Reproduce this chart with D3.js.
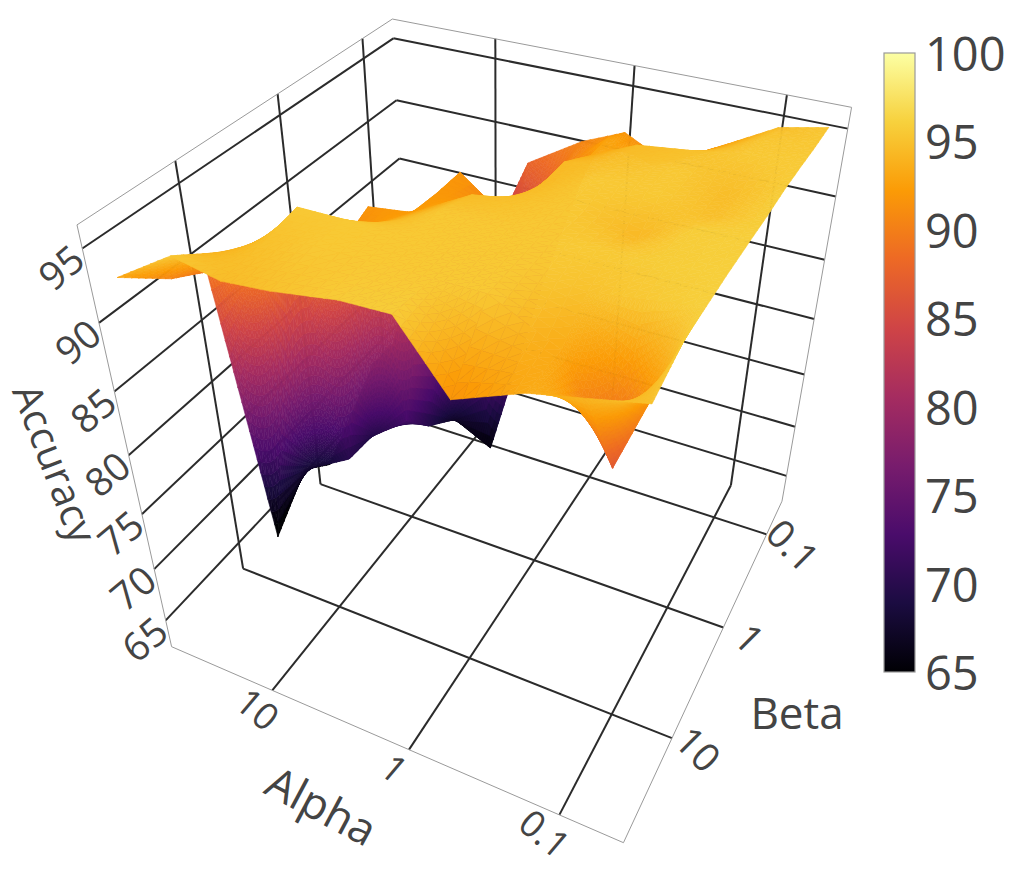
<!DOCTYPE html>
<html>
<head>
<meta charset="utf-8">
<script src="https://cdn.jsdelivr.net/npm/d3@7"></script>
<style>
  body { margin: 0; background: #fff; }
  svg text { font-family: "Open Sans", sans-serif; fill: #444; }
</style>
</head>
<body>
<script>
// hyper-parameter grid (log spaced)
const alphaValues = [0.05, 0.1, 0.2, 0.5, 1, 2, 5, 10, 20, 50];
const betaValues = [0.05, 0.1, 0.2, 0.5, 1, 2, 5, 10, 20, 50];
// accuracy[j][i] : row j = beta, column i = alpha
const accuracy = [
  [95.3, 94.6, 92.7, 90.3, 91.9, 90.5, 87.8, 80.0, 78.0, 76.0],
  [95.4, 95.3, 93.7, 91.6, 92.9, 90.0, 82.0, 75.0, 72.0, 70.0],
  [95.6, 95.5, 95.0, 94.5, 93.0, 82.0, 65.0, 66.8, 70.0, 70.0],
  [95.8, 94.6, 95.5, 95.0, 94.5, 88.8, 92.0, 69.2, 69.5, 67.0],
  [95.8, 94.8, 95.5, 95.5, 94.5, 91.7, 92.0, 72.0, 69.3, 64.8],
  [95.9, 95.8, 94.3, 95.5, 95.0, 94.5, 92.2, 91.8, 69.5, 66.8],
  [96.0, 95.8, 95.6, 95.5, 95.5, 95.5, 93.5, 90.5, 91.0, 63.3],
  [96.0, 95.5, 95.0, 95.5, 95.5, 95.5, 95.5, 95.5, 91.0, 89.0],
  [96.0, 86.5, 93.3, 95.5, 95.5, 95.5, 95.5, 95.0, 93.3, 90.3],
  [95.0, 94.2, 93.4, 91.5, 95.8, 95.7, 95.0, 94.7, 95.4, 92.8]
];
const logTicks = [0.1, 1, 10];
const zTicks = [65, 70, 75, 80, 85, 90, 95];
const colorTicks = [65, 70, 75, 80, 85, 90, 95, 100];
// inferno colour stops
const infernoStops = ["#000004", "#1b0c41", "#4a0c6b", "#781c6d", "#a52c60",
  "#cf4446", "#ed6925", "#fb9b06", "#f7d13d", "#fcffa4"];

const width = 1016, height = 871;

const svg = d3.select("body").append("svg")
  .attr("width", width).attr("height", height);

// data -> unit box
const xs = d3.scaleLog().domain([0.04, 63]).range([0, 1]);   // alpha
const ys = d3.scaleLog().domain([0.04, 63]).range([0, 1]);   // beta
const zs = d3.scaleLinear().domain([62.3, 96.5]).range([0, 1]);
const color = d3.scaleLinear()
  .domain(infernoStops.map((c, k) => 65 + 35 * k / (infernoStops.length - 1)))
  .range(infernoStops)
  .interpolate(d3.interpolateRgb)
  .clamp(true);

// where the scene box corners land on screen (camera calibration)
const boxCorners = [
  [[1, 1, 0], [172, 648]],
  [[0, 1, 0], [623, 842]],
  [[0, 0, 0], [782, 502]],
  [[1, 0, 0], [411, 384]],
  [[1, 1, 1], [77, 224]],
  [[0, 0, 1], [852, 107]],
  [[1, 0, 1], [392, 20]]
];

// least squares perspective camera (DLT with p[11] = 1)
function solveCamera(pts) {
  const rows = [], rhs = [];
  pts.forEach(([[X, Y, Z], [x, y]]) => {
    rows.push([X, Y, Z, 1, 0, 0, 0, 0, -x * X, -x * Y, -x * Z]); rhs.push(x);
    rows.push([0, 0, 0, 0, X, Y, Z, 1, -y * X, -y * Y, -y * Z]); rhs.push(y);
  });
  const n = 11;
  const M = d3.range(n).map(() => new Array(n + 1).fill(0));
  rows.forEach((r, k) => {
    for (let i = 0; i < n; i++) {
      for (let j = 0; j < n; j++) M[i][j] += r[i] * r[j];
      M[i][n] += r[i] * rhs[k];
    }
  });
  for (let c = 0; c < n; c++) {
    let piv = c;
    for (let r = c + 1; r < n; r++) if (Math.abs(M[r][c]) > Math.abs(M[piv][c])) piv = r;
    [M[c], M[piv]] = [M[piv], M[c]];
    for (let r = 0; r < n; r++) {
      if (r === c) continue;
      const f = M[r][c] / M[c][c];
      for (let k = c; k <= n; k++) M[r][k] -= f * M[c][k];
    }
  }
  return M.map((r, i) => r[n] / r[i]);
}
const cam = solveCamera(boxCorners);

function project(X, Y, Z) {
  const d = cam[8] * X + cam[9] * Y + cam[10] * Z + 1;
  return [
    (cam[0] * X + cam[1] * Y + cam[2] * Z + cam[3]) / d,
    (cam[4] * X + cam[5] * Y + cam[6] * Z + cam[7]) / d,
    d
  ];
}
const line = d3.line();
function seg(g, a, b, stroke, sw) {
  g.append("path")
    .attr("d", line([project(...a).slice(0, 2), project(...b).slice(0, 2)]))
    .attr("stroke", stroke).attr("stroke-width", sw).attr("fill", "none");
}

// back walls + floor grid
const grid = svg.append("g");
const gridColor = "#2b2b2b";
logTicks.forEach(t => {
  seg(grid, [xs(t), 0, 0], [xs(t), 1, 0], gridColor, 2);
  seg(grid, [0, ys(t), 0], [1, ys(t), 0], gridColor, 2);
  seg(grid, [xs(t), 0, 0], [xs(t), 0, 1], gridColor, 2);
  seg(grid, [1, ys(t), 0], [1, ys(t), 1], gridColor, 2);
});
zTicks.forEach(t => {
  seg(grid, [0, 0, zs(t)], [1, 0, zs(t)], gridColor, 2);
  seg(grid, [1, 0, zs(t)], [1, 1, zs(t)], gridColor, 2);
});
const edge = "#9a9a9a";
[
  [[1, 1, 0], [0, 1, 0]], [[0, 1, 0], [0, 0, 0]], [[0, 0, 0], [0, 0, 1]],
  [[0, 0, 1], [1, 0, 1]], [[1, 0, 1], [1, 1, 1]], [[1, 1, 1], [1, 1, 0]]
].forEach(([a, b]) => seg(grid, a, b, edge, 1));

// surface: every grid cell split into small bilinear patches (finer where steep),
// painted back to front
const tris = [];
for (let j = 0; j < betaValues.length - 1; j++) {
  for (let i = 0; i < alphaValues.length - 1; i++) {
    const u0 = xs(alphaValues[i]), u1 = xs(alphaValues[i + 1]);
    const v0 = ys(betaValues[j]), v1 = ys(betaValues[j + 1]);
    const z00 = accuracy[j][i], z10 = accuracy[j][i + 1];
    const z01 = accuracy[j + 1][i], z11 = accuracy[j + 1][i + 1];
    const span = d3.max([z00, z10, z01, z11]) - d3.min([z00, z10, z01, z11]);
    const sub = Math.max(5, Math.min(18, Math.ceil(span / 0.7)));
    const pt = (s, t) => {
      const z = z00 * (1 - s) * (1 - t) + z10 * s * (1 - t) + z01 * (1 - s) * t + z11 * s * t;
      const p = project(u0 + s * (u1 - u0), v0 + t * (v1 - v0), zs(z));
      return { x: p[0], y: p[1], d: p[2], z };
    };
    for (let b = 0; b < sub; b++) {
      for (let a = 0; a < sub; a++) {
        const p00 = pt(a / sub, b / sub), p10 = pt((a + 1) / sub, b / sub);
        const p01 = pt(a / sub, (b + 1) / sub), p11 = pt((a + 1) / sub, (b + 1) / sub);
        [[p00, p10, p11], [p00, p11, p01]].forEach(tri => {
          tris.push({
            pts: tri.map(p => [p.x, p.y]),
            d: d3.mean(tri, p => p.d),
            z: d3.mean(tri, p => p.z)
          });
        });
      }
    }
  }
}
tris.sort((a, b) => b.d - a.d);
svg.append("g").selectAll("path").data(tris).join("path")
  .attr("d", t => "M" + t.pts.map(p => p.map(c => c.toFixed(1))).join("L") + "Z")
  .attr("fill", t => color(t.z))
  .attr("stroke", t => color(t.z))
  .attr("stroke-width", 0.6)
  .attr("stroke-linejoin", "round");

// tick labels
const labels = svg.append("g");
function tickLabel(pt, dx, dy, rot, txt, size) {
  const [x, y] = project(...pt);
  labels.append("text")
    .attr("transform", `translate(${x + dx},${y + dy}) rotate(${rot})`)
    .attr("text-anchor", "middle").attr("dominant-baseline", "central")
    .style("font-size", size + "px").text(txt);
}
logTicks.forEach(t => {
  tickLabel([xs(t), 1, 0], -14, 18, 40, d3.format("~g")(t), 37);
  tickLabel([0, ys(t), 0], 27, 10, 45, d3.format("~g")(t), 39);
});
zTicks.forEach(t => tickLabel([1, 1, zs(t)], -22, 18, -40, t, 39));

labels.append("text").attr("transform", "translate(56,463) rotate(69)")
  .attr("text-anchor", "middle").attr("dominant-baseline", "central")
  .style("font-size", "40px").text("Accuracy");
labels.append("text").attr("transform", "translate(322,805) rotate(28)")
  .attr("text-anchor", "middle").attr("dominant-baseline", "central")
  .style("font-size", "44px").text("Alpha");
labels.append("text").attr("transform", "translate(797,712)")
  .attr("text-anchor", "middle").attr("dominant-baseline", "central")
  .style("font-size", "44px").text("Beta");

// colorbar
const cb = { x: 884, y0: 53, y1: 672, w: 31 };
const cy = d3.scaleLinear().domain([65, 100]).range([cb.y1, cb.y0]);
const grad = svg.append("defs").append("linearGradient").attr("id", "cbar")
  .attr("x1", 0).attr("y1", 1).attr("x2", 0).attr("y2", 0);
infernoStops.forEach((c, k) => {
  grad.append("stop").attr("offset", k / (infernoStops.length - 1)).attr("stop-color", c);
});
svg.append("rect").attr("x", cb.x).attr("y", cb.y0).attr("width", cb.w)
  .attr("height", cb.y1 - cb.y0).attr("fill", "url(#cbar)")
  .attr("stroke", "#999").attr("stroke-width", 1.2);
svg.append("g").selectAll("text").data(colorTicks).join("text")
  .attr("x", 925).attr("y", d => cy(d))
  .attr("dominant-baseline", "central")
  .style("font-size", "47px").text(d => d);
</script>
</body>
</html>
